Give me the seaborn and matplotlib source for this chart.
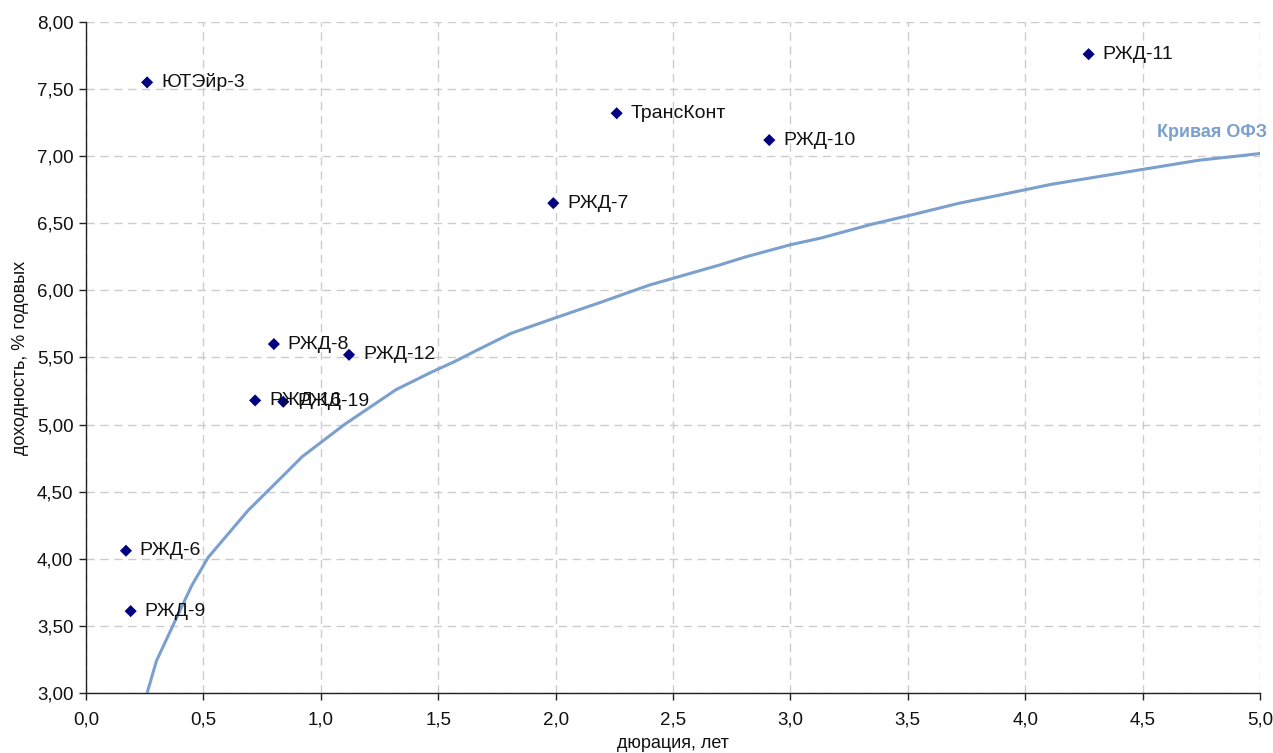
import matplotlib
matplotlib.use("Agg")
import matplotlib.pyplot as plt
import seaborn as sns
import pandas as pd
from matplotlib.ticker import FuncFormatter

# Bond data
bond_names = ["ЮТЭйр-3", "ТрансКонт", "РЖД-11", "РЖД-10", "РЖД-7", "РЖД-8",
              "РЖД-12", "РЖД-16", "РЖД-19", "РЖД-6", "РЖД-9"]
bond_duration = [0.26, 2.26, 4.27, 2.91, 1.99, 0.80, 1.12, 0.72, 0.84, 0.17, 0.19]
bond_yield = [7.55, 7.32, 7.76, 7.12, 6.65, 5.60, 5.52, 5.18, 5.17, 4.06, 3.61]

# OFZ curve
ofz_duration = [0.26, 0.30, 0.38, 0.45, 0.52, 0.69, 0.84, 0.92, 1.10, 1.32, 1.47,
                1.57, 1.66, 1.81, 1.99, 2.19, 2.40, 2.62, 2.70, 2.81, 3.00, 3.13,
                3.34, 3.51, 3.72, 3.89, 4.11, 4.32, 4.53, 4.74, 4.90, 5.00]
ofz_yield = [3.00, 3.24, 3.54, 3.80, 4.01, 4.36, 4.62, 4.76, 5.00, 5.26, 5.39,
             5.47, 5.55, 5.68, 5.79, 5.91, 6.04, 6.15, 6.19, 6.25, 6.34, 6.39,
             6.49, 6.56, 6.65, 6.71, 6.79, 6.85, 6.91, 6.97, 7.00, 7.02]

x_ticks = [0.0, 0.5, 1.0, 1.5, 2.0, 2.5, 3.0, 3.5, 4.0, 4.5, 5.0]
y_ticks = [3.0, 3.5, 4.0, 4.5, 5.0, 5.5, 6.0, 6.5, 7.0, 7.5, 8.0]

sns.set_theme(style="white")
plt.rcParams["font.family"] = ["Liberation Sans", "DejaVu Sans"]

fig = plt.figure(figsize=(12.73, 7.53), dpi=100)
ax = fig.add_axes([0.0676, 0.0797, 0.9222, 0.8911])

bonds = pd.DataFrame({"name": bond_names, "dur": bond_duration, "yld": bond_yield})
curve = pd.DataFrame({"dur": ofz_duration, "yld": ofz_yield})

curve_color = "#7ba0cd"
sns.lineplot(data=curve, x="dur", y="yld", ax=ax, color=curve_color, linewidth=2.2,
             sort=False, zorder=3)
sns.scatterplot(data=bonds, x="dur", y="yld", ax=ax, marker="D", color="#000080",
                s=38, edgecolor="none", zorder=4)

for n, xv, yv in zip(bond_names, bond_duration, bond_yield):
    ax.annotate(n, (xv, yv), xytext=(10, 0), textcoords="offset points",
                va="center", ha="left", fontsize=14, color="#111111", zorder=5)

ax.text(5.03, 7.18, "Кривая ОФЗ", ha="right", va="center", fontsize=13,
        fontweight="bold", color=curve_color, clip_on=False)

ax.set_xlim(0, 5.0)
ax.set_ylim(3.0, 8.0)
ax.set_xticks(x_ticks)
ax.set_yticks(y_ticks)
ax.xaxis.set_major_formatter(FuncFormatter(lambda v, p: f"{v:.1f}".replace(".", ",")))
ax.yaxis.set_major_formatter(FuncFormatter(lambda v, p: f"{v:.2f}".replace(".", ",")))

ax.grid(True, color="#cccccc", linestyle=(0, (6, 4)), linewidth=1.0)
ax.set_axisbelow(True)
for s in ["top", "right"]:
    ax.spines[s].set_visible(False)
for s in ["left", "bottom"]:
    ax.spines[s].set_color("#222222")
    ax.spines[s].set_linewidth(1.0)

ax.tick_params(axis="both", which="major", direction="out", length=5, width=1,
               color="#222222", labelsize=13.5, labelcolor="#111111", bottom=True, left=True)
ax.tick_params(axis="x", pad=8)
ax.tick_params(axis="y", pad=4)

ax.set_xlabel("дюрация, лет", fontsize=13, color="#111111", labelpad=5)
ax.set_ylabel("доходность, % годовых", fontsize=13, color="#111111", labelpad=6)

fig.savefig("out.png", dpi=100)
